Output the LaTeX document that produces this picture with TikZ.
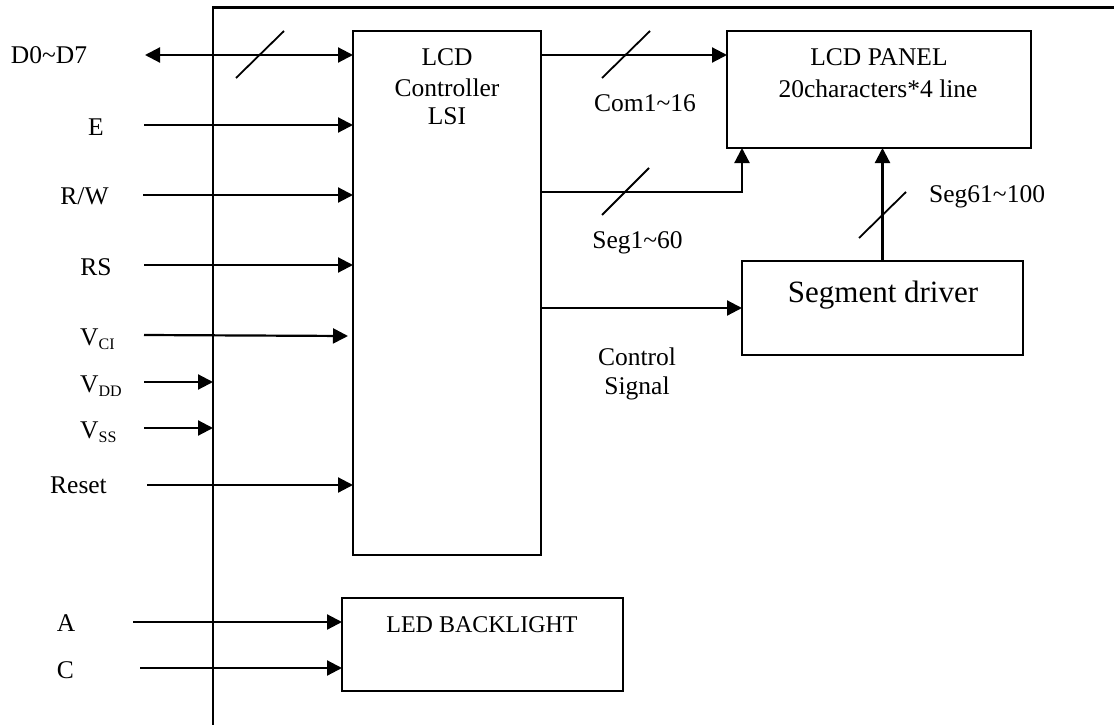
\documentclass[tikz,border=0pt]{standalone}
\usepackage{fontspec}
\setmainfont{Liberation Serif}
\usetikzlibrary{arrows.meta}
\begin{document}
\begin{tikzpicture}[x=1pt,y=-1pt,
  box/.style={draw, line width=2.2pt, rectangle, inner sep=0pt, outer sep=0pt, anchor=north west},
  lbl/.style={inner sep=0pt, anchor=base, font=\fontsize{25.5}{29}\selectfont},
  lblw/.style={inner sep=0pt, anchor=base west, font=\fontsize{25.5}{29}\selectfont},
  wire/.style={line width=2.2pt},
  arr/.style={line width=2.2pt, -{Triangle[length=15pt,width=15pt]}},
  darr/.style={line width=2.2pt, {Triangle[length=15pt,width=15pt]}-{Triangle[length=15pt,width=15pt]}},
  slash/.style={line width=1.8pt},
]
\newcommand{\sbs}[1]{\raisebox{-4pt}{\fontsize{16}{16}\selectfont #1}}
\useasboundingbox (0,0) rectangle (1114,725);
\fill[white] (0,0) rectangle (1114,725);

% outer frame (open on the right and bottom)
\coordinate (fl) at (213,7.5);
\draw[wire] (213,730) -- (fl) -- (1120,7.5);

% blocks
\node[box, minimum width=188pt, minimum height=524pt] (ctrl) at (353,31) {};
\node[box, minimum width=304pt, minimum height=117pt] (panel) at (727,31) {};
\node[box, minimum width=281pt, minimum height=94pt] (segdrv) at (742,261) {};
\node[box, minimum width=281pt, minimum height=93pt] (led) at (342,598) {};

% block texts
\node[lbl] (t1) at (447,66) {LCD};
\node[lbl] (t2) at (447,96) {Controller};
\node[lbl] (t3) at (447,124) {LSI};
\node[lbl] (t4) at (879,66) {LCD PANEL};
\node[lbl] (t5) at (878,97) {20characters*4 line};
\node[lbl, font=\fontsize{31}{35}\selectfont] (t6) at (883,302) {Segment driver};
\node[lbl, font=\fontsize{24}{28}\selectfont] (t7) at (482,632) {LED BACKLIGHT};

% left labels
\node[lbl] (lD) at (49,64) {D0\char`~D7};
\node[lbl] (lE) at (96,135) {E};
\node[lbl] (lRW) at (84.5,204) {R/W};
\node[lbl] (lRS) at (96,275) {RS};
\node[lblw] (lVCI) at (80,345) {V\sbs{CI}};
\node[lblw] (lVDD) at (80,392) {V\sbs{DD}};
\node[lblw] (lVSS) at (80,438) {V\sbs{SS}};
\node[lbl] (lRst) at (78.5,493) {Reset};
\node[lbl] (lA) at (66,631) {A};
\node[lbl] (lC) at (65.5,678) {C};

% input start points
\coordinate (sD) at (145,55);
\coordinate (sE) at (144,125);
\coordinate (sRW) at (143,195);
\coordinate (sRS) at (144,265);
\coordinate (sVCI) at (144,335);
\coordinate (sVDD) at (144,382);
\coordinate (sVSS) at (144,428);
\coordinate (sRst) at (147,485);
\coordinate (sA) at (133,622);
\coordinate (sC) at (140,668);

% input connectors
\draw[darr] (sD) -- (ctrl.west |- sD);
\draw[arr] (sE) -- (ctrl.west |- sE);
\draw[arr] (sRW) -- (ctrl.west |- sRW);
\draw[arr] (sRS) -- (ctrl.west |- sRS);
\draw[arr] (sVCI) -- ([xshift=-5pt,yshift=-1pt]ctrl.west |- sVCI);
\draw[arr] (sVDD) -- (fl |- sVDD);
\draw[arr] (sVSS) -- (fl |- sVSS);
\draw[arr] (sRst) -- (ctrl.west |- sRst);
\draw[arr] (sA) -- (led.west |- sA);
\draw[arr] (sC) -- (led.west |- sC);

% output connectors
\coordinate (yCom) at (0,55);
\coordinate (ySeg) at (0,192);
\coordinate (yCtl) at (0,308);
\draw[arr] (ctrl.east |- yCom) -- (panel.west |- yCom);
\draw[arr] (ctrl.east |- ySeg) -| ([xshift=15pt]panel.south west);
\draw[arr] (ctrl.east |- yCtl) -- (segdrv.west |- yCtl);
\draw[arr] (segdrv.north) -- (segdrv.north |- panel.south);

% bus slashes
\draw[slash] (236,78) -- (284,31);
\draw[slash] (602,78) -- (650,31);
\draw[slash] (602,215) -- (649,168);
\draw[slash] (859,238) -- (906,192);

% connector labels
\node[lbl] (lCom) at (645,111) {Com1\char`~16};
\node[lbl] (lSeg) at (637.5,248) {Seg1\char`~60};
\node[lbl] (lCtl1) at (637,365) {Control};
\node[lbl] (lCtl2) at (637,394) {Signal};
\node[lblw] (lSeg2) at (929,202) {Seg61\char`~100};
\end{tikzpicture}
\end{document}
